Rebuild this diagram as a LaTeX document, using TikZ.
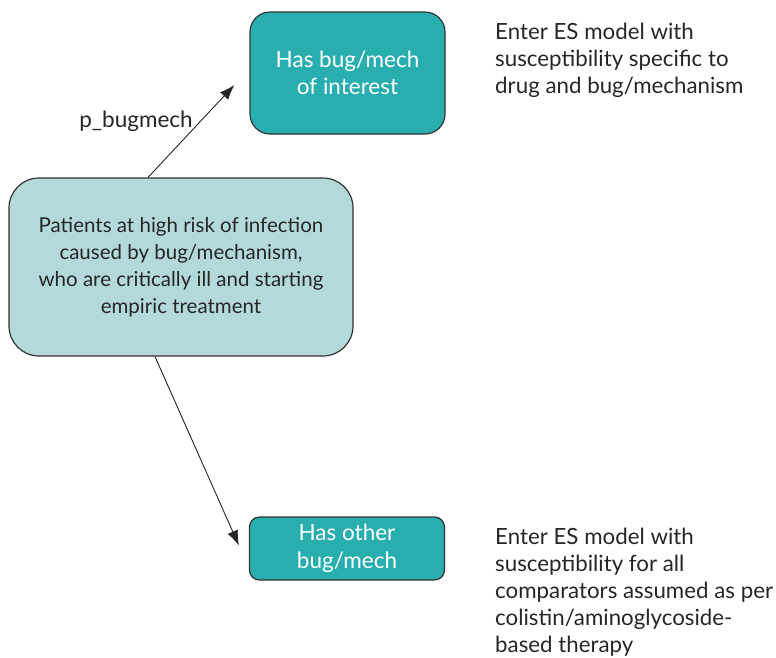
\documentclass[tikz,border=0pt]{standalone}
\usepackage{fontspec}
\setmainfont{Lato}
\usetikzlibrary{arrows.meta}

\definecolor{tealdark}{HTML}{29AEB0}
\definecolor{teallight}{HTML}{B3D9DB}
\definecolor{edgegray}{HTML}{333333}

\begin{document}
\begin{tikzpicture}[x=1pt, y=-1pt]
        % Define block styles
        \tikzstyle{patients} = [rectangle, rounded corners=30pt, minimum width=344pt, minimum height=178pt, align=center, draw=edgegray, line width=1.2pt, fill=teallight, text=black!85, font=\fontsize{20.5}{27}\selectfont]
        \tikzstyle{outcome} = [rectangle, rounded corners=20pt, minimum width=195pt, align=center, draw=edgegray, line width=1.2pt, fill=tealdark, text=white, font=\fontsize{22.5}{27.5}\selectfont]
        \tikzstyle{note} = [align=left, inner sep=0pt, text=black!85, font=\fontsize{22.3}{27}\selectfont]
        \tikzstyle{arrow} = [line width=0.9pt, draw=black!85, -{Latex[length=15pt, width=11pt]}]

        \useasboundingbox (0,0) rectangle (776,657);

        % Nodes
        \node (main) [patients] at (181,267) {Patients at high risk of infection\\caused by bug/mechanism,\\who are critically ill and starting\\empiric treatment};
        \node (hasbug) [outcome, minimum height=122pt] at (347.5,73) {Has bug/mech\\of interest};
        \node (other) [outcome, rounded corners=10pt, minimum height=63pt] at (347,548.5) {Has other\\bug/mech};
        \node (notetop) [note, anchor=base west] at (495,93) {Enter ES model with\\susceptibility specific to\\drug and bug/mechanism};
        \node (notebot) [note, anchor=base west] at (495,652) {Enter ES model with\\susceptibility for all\\comparators assumed as per\\colistin/aminoglycoside-\\based therapy};

        % Arrows
        \draw [arrow] ([xshift=-33pt]main.north) -- node[pos=0.5, anchor=south east, inner sep=0pt, xshift=2pt, yshift=-1pt, text=black!85, font=\fontsize{22.5}{27}\selectfont] {p\_bugmech} ([xshift=-15pt, yshift=-12pt]hasbug.west);
        \draw [arrow] ([xshift=-26pt]main.south) -- ([xshift=-10pt, yshift=3pt]other.west);
    \end{tikzpicture}
\end{document}
